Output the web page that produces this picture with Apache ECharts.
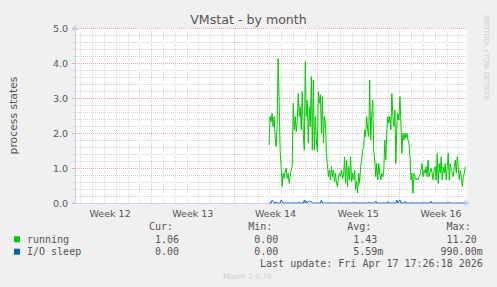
<!DOCTYPE html>
<html><head><meta charset="utf-8">
<script src="https://cdn.jsdelivr.net/npm/echarts@6/dist/echarts.min.js"></script>
<style>html,body{margin:0;padding:0;background:#f0f0f0;}#c{width:497px;height:287px;}</style>
</head><body><div id="c"></div>
<script>
// ---- data ----
const chartTitle = 'VMstat - by month';
const yAxisName = 'process states';
const weekLabels = ['Week 12', 'Week 13', 'Week 14', 'Week 15', 'Week 16'];
const weekMidDays = [3.5, 10.5, 17.5, 24.5, 31.5];      // days since Mon 2026-03-16 00:00
const weekStartDays = [7, 14, 21, 28];
const axisMinDay = 0.53, axisMaxDay = 33.7;
const seriesStartDay = 16.95, seriesEndDay = 33.56;
const runningValues = [
1.66,2.47,2.32,2.56,2.18,2.47,1.90,1.61,2.18,4.13,
2.94,1.51,1.04,0.47,0.85,0.70,0.90,0.99,0.70,0.85,
0.56,0.75,0.94,1.04,2.85,2.09,2.47,2.04,2.32,3.13,
2.47,2.75,2.09,3.18,1.99,1.51,4.04,2.47,2.94,1.71,
2.75,2.18,3.61,1.51,3.51,1.51,2.47,1.80,1.47,3.18,
2.85,3.09,1.99,3.04,1.71,2.47,2.28,1.42,1.09,0.75,
0.94,0.66,1.04,0.75,0.94,0.61,0.85,0.56,0.47,0.75,
0.85,0.75,0.94,0.70,0.75,1.32,0.56,1.23,0.47,1.04,
0.66,1.32,0.61,0.85,0.66,0.94,0.37,0.61,0.28,0.85,
0.56,1.04,1.23,1.51,1.61,2.09,1.90,2.47,2.09,1.90,
3.51,1.80,2.47,2.94,
1.51,1.23,0.75,1.13,0.66,1.13,0.85,0.66,0.85,0.75,
0.94,1.80,1.23,2.09,2.47,2.28,2.47,2.09,3.13,2.47,
2.18,2.66,1.13,2.28,2.56,2.37,3.04,2.28,1.42,1.99,
1.80,1.99,1.85,1.99,1.80,1.71,1.32,0.66,0.85,0.28,
0.85,0.75,0.66,0.70,0.66,0.75,0.80,0.94,1.13,0.75,
0.94,0.85,1.04,0.75,1.23,0.75,0.90,0.99,0.85,0.66,
0.94,1.04,0.66,1.42,0.56,1.13,0.85,1.32,0.66,1.04,
0.85,1.13,0.66,1.04,1.42,0.66,1.13,0.94,0.85,0.75,
1.04,1.23,0.85,1.32,1.04,0.66,0.94,0.75,0.47,0.75,
0.85,1.04
];
const ioSleepValues = [
0,0,0,0.08,0.05,0,0,0.03,0,0,0,0,0.08,0.06,0,0,0,0,0,0,
0,0,0,0,0,0,0,0,0,0,0.03,0,0,0,0,0.08,0,0.06,0,0.04,
0.05,0.04,0.04,0,0,0,0,0,0,0,0,0,0.08,0,0,0,0,0,0,0,
0,0,0,0,0,0,0,0,0,0,0,0,0,0,0,0,0,0,0,0,
0,0,0,0,0,0.03,0,0,0,0,0,0,0,0,0,0,0,0,0,0.03,
0,0,0,0,0,0,0.05,0,0,0,0,0,0,0,0,0,0,0,0.04,0,
0,0,0,0,0,0,0,0.08,0,0.05,0.09,0,0,0,0,0.04,0,0,0,0,
0,0,0,0,0,0,0,0,0,0,0,0,0,0,0,0,0,0,0,0,
0,0.05,0,0,0,0,0,0,0,0,0,0,0,0,0,0,0,0,0.03,0,
0,0,0,0,0,0,0,0,0,0,0,0,0,0,0,0
];
const seriesNames = ['running', 'I/O sleep'];
const statHeaders = ['Cur:', 'Min:', 'Avg:', 'Max:'];
const runningStats = ['1.06', '0.00', '1.43', '11.20'];
const ioSleepStats = ['0.00', '0.00', '5.59m', '990.00m'];
const lastUpdate = 'Last update: Fri Apr 17 17:26:18 2026';
const footerText = 'Munin 2.0.76';
const sideText = 'RRDTOOL / TOBI OETIKER';

// ---- build ----
function toXY(vals) {
  const n = vals.length, step = (seriesEndDay - seriesStartDay) / (n - 1);
  return vals.map((v, i) => [seriesStartDay + i * step, v]);
}
const TXT = '#555';
const SANS = 'DejaVu Sans';
const MONO = '10px "DejaVu Sans Mono"';
const GREEN = '#00cc00', BLUE = '#0066b3';
const AXIS = '#c8cff0';
const MAJOR = '#eba4a4', MINOR = '#d2d2d2';
const MAJOR_V = '#f2c2c2', MINOR_V = '#dddddd';

const gridLines = [];
for (let d = Math.ceil(axisMinDay); d < axisMaxDay; d++) {
  const major = weekStartDays.indexOf(d) >= 0;
  gridLines.push({ xAxis: d, lineStyle: { color: major ? MAJOR_V : MINOR_V, type: [1, 1], width: 1 } });
}

const graphics = [];
const colRight = [179, 278.3, 377.3, 476.7];
const charW = 6.02;
const rowY = [239.3, 251.7];
statHeaders.forEach((h, i) => graphics.push({ type: 'text', silent: true,
  style: { text: h, x: colRight[i] - charW, y: 226.7, font: MONO, fill: TXT, align: 'right', verticalAlign: 'middle' } }));
[runningStats, ioSleepStats].forEach((row, r) => row.forEach((s, i) => {
  const hasUnit = /[a-zA-Z]$/.test(s);
  graphics.push({ type: 'text', silent: true,
    style: { text: s, x: colRight[i] + (hasUnit ? charW : 0), y: rowY[r], font: MONO, fill: TXT, align: 'right', verticalAlign: 'middle' } });
}));
graphics.push({ type: 'text', silent: true,
  style: { text: lastUpdate, x: 482.8, y: 263.3, font: MONO, fill: TXT, align: 'right', verticalAlign: 'middle' } });
graphics.push({ type: 'text', silent: true,
  style: { text: footerText, x: 247.5, y: 276.7, font: '7.5px "DejaVu Sans"', fill: '#cfcfcf', align: 'center', verticalAlign: 'middle' } });
graphics.push({ type: 'text', silent: true, x: 486, y: 57.5, rotation: -Math.PI / 2,
  style: { text: sideText, x: 0, y: 0, font: '6.6px "DejaVu Sans"', fill: '#cccccc', align: 'center', verticalAlign: 'middle' } });

const chart = echarts.init(document.getElementById('c'), null, { renderer: 'svg' });
chart.setOption({
  animation: false,
  backgroundColor: '#f0f0f0',
  title: { text: chartTitle, left: 'center', top: 12, padding: 0,
    textStyle: { fontFamily: SANS, fontSize: 12.6, fontWeight: 'normal', color: TXT, lineHeight: 15 } },
  grid: { left: 67, top: 28, width: 400, height: 175, show: true, backgroundColor: '#ffffff', borderWidth: 0 },
  legend: {
    orient: 'vertical', left: 14, top: 233.3, padding: 0, itemWidth: 6, itemHeight: 6, itemGap: 0.4,
    icon: 'rect', selectedMode: false,
    textStyle: { fontFamily: 'DejaVu Sans Mono', fontSize: 10, color: TXT, lineHeight: 12, padding: [0, 0, 0, 2] },
    data: seriesNames
  },
  xAxis: {
    type: 'value', min: axisMinDay, max: axisMaxDay,
    axisLine: { show: true, onZero: false, lineStyle: { color: AXIS }, symbol: ['none', 'arrow'], symbolSize: [6, 6], symbolOffset: [0, 3] },
    axisTick: { show: false },
    splitLine: { show: false },
    axisLabel: {
      customValues: weekMidDays,
      formatter: v => { const i = weekMidDays.findIndex(w => Math.abs(w - v) < 1e-6); return i >= 0 ? weekLabels[i] : ''; },
      color: TXT, fontSize: 9.5, fontFamily: SANS, margin: 5
    }
  },
  yAxis: {
    type: 'value', min: 0, max: 5, interval: 1,
    name: yAxisName, nameLocation: 'middle', nameGap: 56, nameRotate: 90,
    nameTextStyle: { fontFamily: SANS, fontSize: 10.8, color: TXT },
    axisLine: { show: true, lineStyle: { color: AXIS }, symbol: ['none', 'arrow'], symbolSize: [6, 6], symbolOffset: [0, 3] },
    axisTick: { show: true, length: 3, lineStyle: { color: MAJOR } },
    minorTick: { show: true, splitNumber: 5, length: 2, lineStyle: { color: MINOR } },
    axisLabel: { formatter: v => v.toFixed(1), color: TXT, fontSize: 9.5, fontFamily: SANS, margin: 7 },
    splitLine: { show: true, lineStyle: { color: MAJOR, type: [1, 1] } },
    minorSplitLine: { show: true, lineStyle: { color: MINOR, type: [1, 1] } }
  },
  series: [
    { name: '_grid', type: 'line', data: [], silent: true,
      markLine: { silent: true, symbol: 'none', z: 1, label: { show: false }, emphasis: { disabled: true }, data: gridLines } },
    { name: seriesNames[0], type: 'line', data: toXY(runningValues), symbol: 'none', color: GREEN,
      lineStyle: { width: 1, color: GREEN }, z: 2 },
    { name: seriesNames[1], type: 'line', data: toXY(ioSleepValues), symbol: 'none', color: BLUE,
      lineStyle: { width: 1, color: BLUE }, z: 3 }
  ],
  graphic: graphics
});
</script>
</body></html>
